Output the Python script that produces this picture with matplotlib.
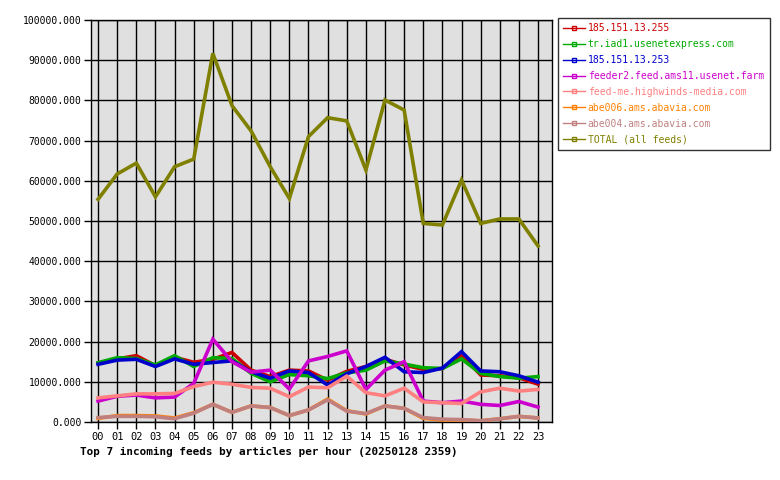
import matplotlib
matplotlib.use("Agg")
import matplotlib.pyplot as plt
from matplotlib.ticker import FuncFormatter, MultipleLocator

hours = ["00", "01", "02", "03", "04", "05", "06", "07", "08", "09", "10", "11",
         "12", "13", "14", "15", "16", "17", "18", "19", "20", "21", "22", "23"]

names = ["185.151.13.255", "tr.iad1.usenetexpress.com", "185.151.13.253",
         "feeder2.feed.ams11.usenet.farm", "feed-me.highwinds-media.com",
         "abe006.ams.abavia.com", "abe004.ams.abavia.com", "TOTAL (all feeds)"]

colors = ["#cc0000", "#00aa00", "#0000cc", "#cc00cc", "#ff8080",
          "#ff8000", "#c08080", "#808000"]

s_red = [14700, 15700, 16500, 14000, 16100, 14850, 15600, 17300, 12900, 11300, 12900, 12700,
         10400, 12600, 13800, 15600, 14200, 13100, 13300, 16700, 11700, 11500, 11000, 9400]
s_green = [14750, 16000, 15800, 14200, 16500, 13800, 16000, 15800, 12100, 10000, 11800, 11500,
           10800, 12200, 12900, 15200, 14400, 13500, 13300, 15700, 12100, 11300, 10900, 11300]
s_blue = [14350, 15400, 15600, 13800, 15700, 14350, 14800, 15200, 12500, 10900, 12700, 12300,
          9200, 12000, 13800, 16100, 12500, 12300, 13400, 17500, 12700, 12500, 11500, 9900]
s_magenta = [5200, 6400, 6700, 6000, 6200, 9600, 20600, 15000, 12400, 12900, 8200, 15200,
             16300, 17700, 8100, 12900, 15000, 5200, 4800, 5200, 4400, 4100, 5100, 3700]
s_salmon = [6000, 6500, 7000, 7000, 7100, 8800, 9900, 9400, 8600, 8400, 6300, 8700,
            8500, 11400, 7300, 6500, 8400, 5000, 4800, 4600, 7500, 8400, 7700, 8100]
s_orange = [900, 1600, 1600, 1500, 1000, 2300, 4400, 2400, 4000, 3600, 1600, 3000,
            5700, 2800, 2000, 4000, 3400, 900, 500, 500, 300, 800, 1400, 1000]
s_abe004 = [1100, 1400, 1400, 1300, 800, 2200, 4400, 2400, 4000, 3600, 1600, 3000,
            5500, 2700, 2100, 4000, 3400, 1100, 700, 600, 300, 800, 1400, 1000]
s_total = [55400, 61700, 64400, 56000, 63500, 65400, 91700, 78700, 72400, 63500, 55600, 71000,
           75700, 74900, 62700, 80100, 77600, 49400, 49000, 60200, 49400, 50500, 50500, 43800]

series = [s_red, s_green, s_blue, s_magenta, s_salmon, s_orange, s_abe004, s_total]

title = "Top 7 incoming feeds by articles per hour (20250128 2359)"

mono = "DejaVu Sans Mono"
fig = plt.figure(figsize=(7.8, 4.8), dpi=100)
ax = fig.add_axes([91/780, 58/480, (552-91)/780, (422-20)/480])
ax.set_facecolor("#e0e0e0")

x = list(range(len(hours)))
handles = []
for vals, c, n in zip(series, colors, names):
    ax.plot(x, vals, color=c, lw=2.6, solid_joinstyle="miter", zorder=3)
    h, = ax.plot([], [], color=c, lw=1.0, marker="s", markersize=3,
                 markerfacecolor="none", markeredgecolor=c, label=n)
    handles.append(h)

ax.set_xlim(-0.37, 23.73)
ax.set_ylim(0, 100000)
ax.set_xticks(x)
ax.set_xticklabels(hours, fontfamily=mono, fontsize=7.5)
ax.yaxis.set_major_locator(MultipleLocator(10000))
ax.yaxis.set_major_formatter(FuncFormatter(lambda v, p: f"{v:.3f}"))
for lab in ax.get_yticklabels():
    lab.set_fontfamily(mono)
    lab.set_fontsize(7.0)
ax.tick_params(axis="both", direction="out", length=5, width=1, color="black", pad=2)
ax.grid(True, color="black", lw=1.0, zorder=1)
ax.set_axisbelow(True)
for sp in ax.spines.values():
    sp.set_color("black")
    sp.set_linewidth(1.0)

leg = fig.legend(handles=handles, loc="upper left", bbox_to_anchor=(558/780, 1 - 18/480),
                 prop={"family": mono, "size": 7.05}, frameon=True, fancybox=False,
                 edgecolor="black", handlelength=2.2, handletextpad=0.3,
                 labelspacing=0.6, borderpad=0.55, borderaxespad=0)
leg.get_frame().set_linewidth(1.0)
for t, c in zip(leg.get_texts(), colors):
    t.set_color(c)

fig.text(80/780, 1 - 452/480, title, fontfamily=mono, fontweight="bold",
         fontsize=7.95, ha="left", va="center")

fig.savefig("out.png", dpi=100)
